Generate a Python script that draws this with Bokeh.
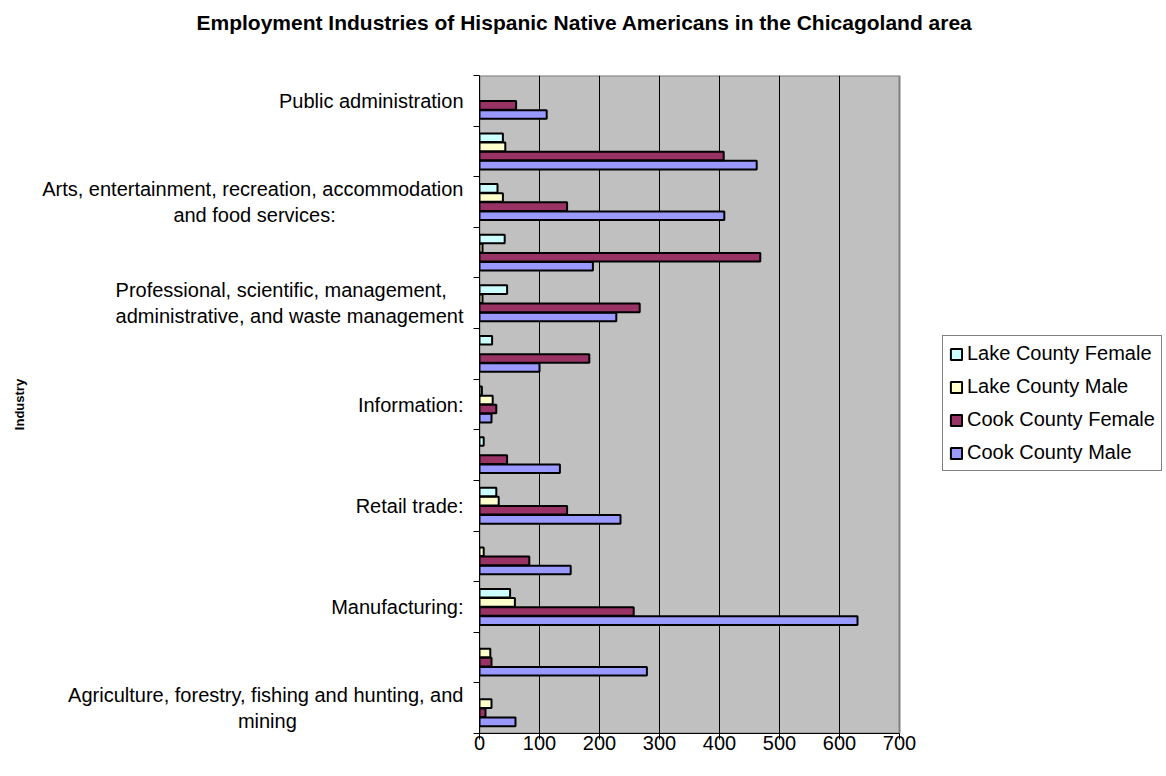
from bokeh.plotting import figure
from bokeh.layouts import column
from bokeh.models import (ColumnDataSource, FixedTicker, Range1d, Legend, LegendItem)
from bokeh.transform import dodge
from bokeh.embed import file_html
from bokeh.resources import INLINE

# ---------------- data ----------------
categories = [
    "Agriculture, forestry, fishing and hunting, and mining",
    "Construction",
    "Manufacturing",
    "Wholesale trade",
    "Retail trade",
    "Transportation and warehousing, and utilities",
    "Information",
    "Finance, insurance, real estate and rental and leasing",
    "Professional, scientific, management, administrative, and waste management",
    "Educational, health and social services",
    "Arts, entertainment, recreation, accommodation and food services",
    "Other services (except public administration)",
    "Public administration",
]
NB = "\u00a0"
# labels shown on the axis (every other category, as in the original);
# short second lines are padded so that they appear centred under the first line
shown_labels = {
    0: "Agriculture, forestry, fishing and hunting, and\nmining" + NB * 30,
    2: "Manufacturing:",
    4: "Retail trade:",
    6: "Information:",
    8: "Professional, scientific, management," + NB * 3 + "\nadministrative, and waste management",
    10: "Arts, entertainment, recreation, accommodation\nand food services:" + NB * 23,
    12: "Public administration",
}
cook_male = [60, 279, 630, 152, 235, 134, 20, 100, 228, 189, 408, 462, 112]
cook_female = [10, 20, 257, 83, 146, 46, 28, 183, 267, 468, 146, 407, 61]
lake_male = [20, 18, 59, 7, 32, 0, 22, 0, 5, 5, 39, 43, 0]
lake_female = [0, 0, 51, 0, 28, 7, 4, 21, 46, 42, 30, 39, 0]

x_ticks = [0, 100, 200, 300, 400, 500, 600, 700]
title_text = "Employment Industries of Hispanic Native Americans in the Chicagoland area"

series = [
    ("Cook County Male", cook_male, "#9999FF", -0.27),
    ("Cook County Female", cook_female, "#993366", -0.09),
    ("Lake County Male", lake_male, "#FFFFCC", 0.09),
    ("Lake County Female", lake_female, "#CCFFFF", 0.27),
]

FONT = "Liberation Sans"
FS = "20px"

# ---------------- layout (pixels) ----------------
W, H = 1166, 776
TOP, LEFT, BOTTOM = 75, 479, 43   # border sizes
AREA_W, AREA_H = 420, 658         # size of the grey plotting area
TITLE_LEFT = 196                  # left edge of the centred title
frame_w = W - LEFT
x_max = x_ticks[-1]
n_cat = len(categories)

# ---------------- title strip ----------------
t = figure(frame_width=frame_w, height=TOP, output_backend="svg", toolbar_location=None,
           x_range=Range1d(0, 1), y_range=Range1d(0, 1),
           x_axis_type=None, y_axis_type=None,
           min_border_left=LEFT, min_border_right=0, min_border_top=0, min_border_bottom=0)
t.outline_line_color = None
t.grid.visible = False
t.background_fill_color = "white"
t.title.text = title_text
t.title.text_font = FONT
t.title.text_font_style = "bold"
t.title.text_font_size = "21px"
t.title.text_color = "black"
t.title.align = "left"
t.title.offset = TITLE_LEFT - LEFT
t.title.standoff = 17

# ---------------- main chart ----------------
pos = [i + 0.5 for i in range(n_cat)]
data = dict(y=pos, cat=categories)
for name, vals, _, _ in series:
    key = name.replace(" ", "_")
    data[key] = vals
    data[key + "_la"] = [1.0 if v > 0 else 0.0 for v in vals]
source = ColumnDataSource(data)

# the frame extends to the right of the data range so that the legend can sit inside it;
# the grey area covers only the data range
p = figure(frame_width=frame_w, frame_height=AREA_H, output_backend="svg",
           toolbar_location=None,
           x_range=Range1d(0, x_max * frame_w / AREA_W),
           y_range=Range1d(0, n_cat),
           min_border_left=LEFT, min_border_right=0, min_border_top=0,
           min_border_bottom=BOTTOM)
p.background_fill_color = "white"
p.border_fill_color = "white"
p.outline_line_color = None

# grey plotting area
p.quad(left=0, right=x_max, bottom=0, top=n_cat, fill_color="#C0C0C0",
       line_color="#808080", line_width=2, level="image")

renderers = {}
for name, vals, color, off in series:
    key = name.replace(" ", "_")
    r = p.hbar(y=dodge("y", off, range=p.y_range), left=0, right=key, height=0.17,
               fill_color=color, line_color="black", line_width=2,
               line_alpha=key + "_la", source=source)
    renderers[name] = r

# grid
p.ygrid.visible = False
p.xgrid.ticker = FixedTicker(ticks=x_ticks[1:-1])
p.xgrid.grid_line_color = "black"
p.xgrid.grid_line_width = 1

# x axis
p.xaxis.ticker = FixedTicker(ticks=x_ticks)
p.xaxis.bounds = (0, x_max)
p.xaxis.major_tick_out = 6
p.xaxis.major_tick_in = 0
p.xaxis.minor_tick_out = 0
p.xaxis.minor_tick_in = 0
p.xaxis.axis_line_color = "black"
p.xaxis.major_tick_line_color = "black"
p.xaxis.major_label_text_font = FONT
p.xaxis.major_label_text_font_size = FS
p.xaxis.major_label_text_color = "black"
p.xaxis.major_label_standoff = -4

# y axis
p.yaxis.ticker = FixedTicker(ticks=[k + 0.5 for k in shown_labels],
                             minor_ticks=list(range(n_cat + 1)))
p.yaxis.major_label_overrides = {k + 0.5: v for k, v in shown_labels.items()}
p.yaxis.major_tick_out = 0
p.yaxis.major_tick_in = 0
p.yaxis.minor_tick_out = 6
p.yaxis.minor_tick_in = 0
p.yaxis.minor_tick_line_color = "black"
p.yaxis.axis_line_color = "black"
p.yaxis.major_label_text_font = FONT
p.yaxis.major_label_text_font_size = FS
p.yaxis.major_label_text_color = "black"
p.yaxis.major_label_standoff = 10
p.yaxis.axis_label = "Industry"
p.yaxis.axis_label_text_font = FONT
p.yaxis.axis_label_text_font_style = "bold"
p.yaxis.axis_label_text_font_size = "13px"
p.yaxis.axis_label_text_color = "black"
p.yaxis.axis_label_standoff = 12

# legend to the right of the grey area
legend_order = ["Lake County Female", "Lake County Male", "Cook County Female", "Cook County Male"]
legend = Legend(items=[LegendItem(label=n, renderers=[renderers[n]], index=2) for n in legend_order],
                location=(AREA_W + 43, 262))
legend.label_text_font = FONT
legend.label_text_font_size = "20px"
legend.label_text_color = "black"
legend.glyph_width = 14
legend.glyph_height = 14
legend.label_height = 23
legend.label_standoff = 4
legend.spacing = 10
legend.padding = 6
legend.margin = 0
legend.border_line_color = "black"
legend.border_line_width = 1
legend.background_fill_color = "white"
legend.background_fill_alpha = 1.0
p.add_layout(legend)

page = column(t, p, spacing=0)
open("out.html", "w").write(file_html(page, INLINE))
